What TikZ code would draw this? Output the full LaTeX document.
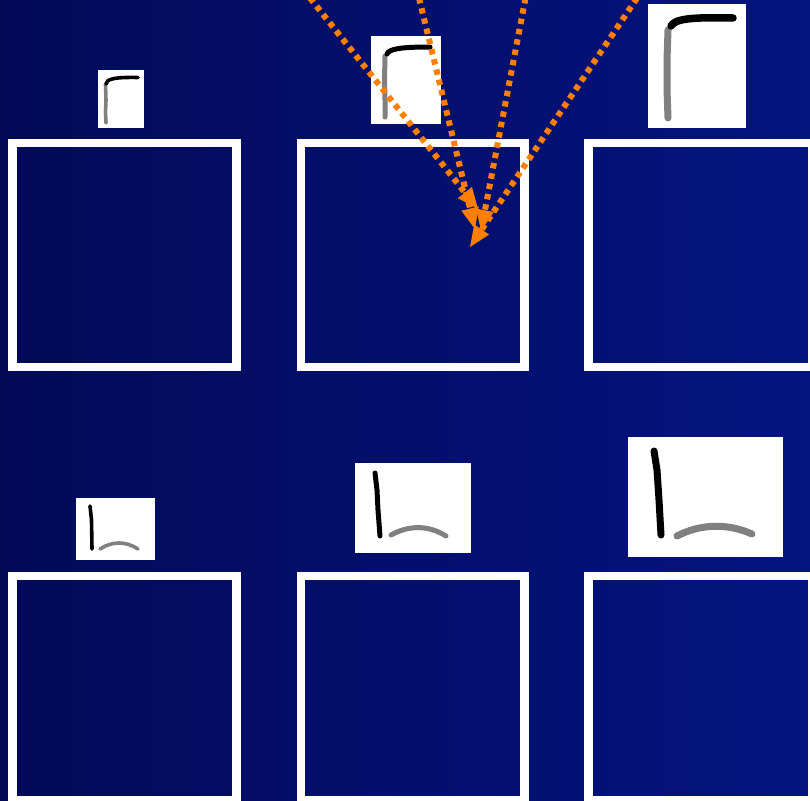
\documentclass[tikz,border=0pt]{standalone}
\usetikzlibrary{arrows.meta}
\definecolor{bgleft}{RGB}{2,10,88}
\definecolor{bgright}{RGB}{4,20,128}
\definecolor{arrorange}{RGB}{255,128,0}
\definecolor{strokegray}{RGB}{128,128,128}
\tikzset{
  frame/.style={draw=white,line width=8.5pt},
  pic/.style={fill=white,draw=none},
  blackstroke/.style={draw=black,line cap=round,line join=round},
  graystroke/.style={draw=strokegray,line cap=round,line join=round},
  dotarrow/.style={draw=arrorange,line width=6pt,dash pattern=on 5.5pt off 5pt,
    -{Triangle[length=21pt,width=18pt,line width=0pt]}}
}
\begin{document}
\begin{tikzpicture}[x=1pt,y=-1pt]
\useasboundingbox (0,0) rectangle (810,800);
\clip (0,0) rectangle (810,800);
\shade[left color=bgleft,right color=bgright] (0,0) rectangle (810,800);
% frames
\draw[frame] (12.5,143) rectangle (236.5,367) coordinate (f1);
\draw[frame] (301,143) rectangle (524.5,367) coordinate (f2);
\draw[frame] (588.7,143) rectangle (812.7,367) coordinate (f3);
\draw[frame] (12.5,576) rectangle (236.5,800) coordinate (f4);
\draw[frame] (301,576) rectangle (524.5,800) coordinate (f5);
\draw[frame] (588.7,576) rectangle (812.7,800) coordinate (f6);
% small pictures
\path[pic] (98,70) rectangle (144,128) coordinate (p1);
\draw[graystroke,line width=3.6pt] (105.5,84) -- (106,100) -- (105.5,112) -- (106,123);
\draw[blackstroke,line width=3.6pt] (106,84) .. controls (106,79) and (115,77) .. (138,77.5);

\path[pic] (371,36) rectangle (441,124) coordinate (p2);
\draw[graystroke,line width=5pt] (385,56) -- (384.5,80) -- (385,100) -- (385,117);
\draw[blackstroke,line width=5pt] (387,54) .. controls (389,49) and (400,47) .. (430,47);

\path[pic] (648,4) rectangle (746,128) coordinate (p3);
\draw[graystroke,line width=7pt] (668,30) -- (667,60) -- (667,90) -- (668,118);
\draw[blackstroke,line width=7.5pt] (671,26) .. controls (675,19) and (690,17) .. (733,18);

\path[pic] (76,498) rectangle (155,560) coordinate (p4);
\draw[blackstroke,line width=3.6pt] (90,506) -- (91.5,520) -- (92,549);
\draw[graystroke,line width=3.6pt] (100,549) .. controls (112,541) and (126,541) .. (138,549);

\path[pic] (355,463) rectangle (471,553) coordinate (p5);
\draw[blackstroke,line width=5pt] (375,473) -- (377,490) -- (378,510) -- (380,536);
\draw[graystroke,line width=5pt] (391,535) .. controls (407,526) and (427,524) .. (446,536);

\path[pic] (628,437) rectangle (783,557) coordinate (p6);
\draw[blackstroke,line width=7pt] (654,451) -- (657,470) -- (659,500) -- (661,535);
\draw[graystroke,line width=7pt] (677,536) .. controls (698,525) and (725,522) .. (752,534);
% arrows
\coordinate (s1) at (310,-2);
\coordinate (s2) at (419,-2);
\coordinate (s3) at (525.5,-2);
\coordinate (s4) at (637,-2);
\coordinate (t1) at (478,209);
\coordinate (t2) at (475,229);
\coordinate (t3) at (481,231);
\coordinate (t4) at (470,247);
\draw[dotarrow] (s1) -- (t1);
\draw[dotarrow] (s2) -- (t2);
\draw[dotarrow] (s3) -- (t3);
\draw[dotarrow] (s4) -- (t4);
\end{tikzpicture}
\end{document}
